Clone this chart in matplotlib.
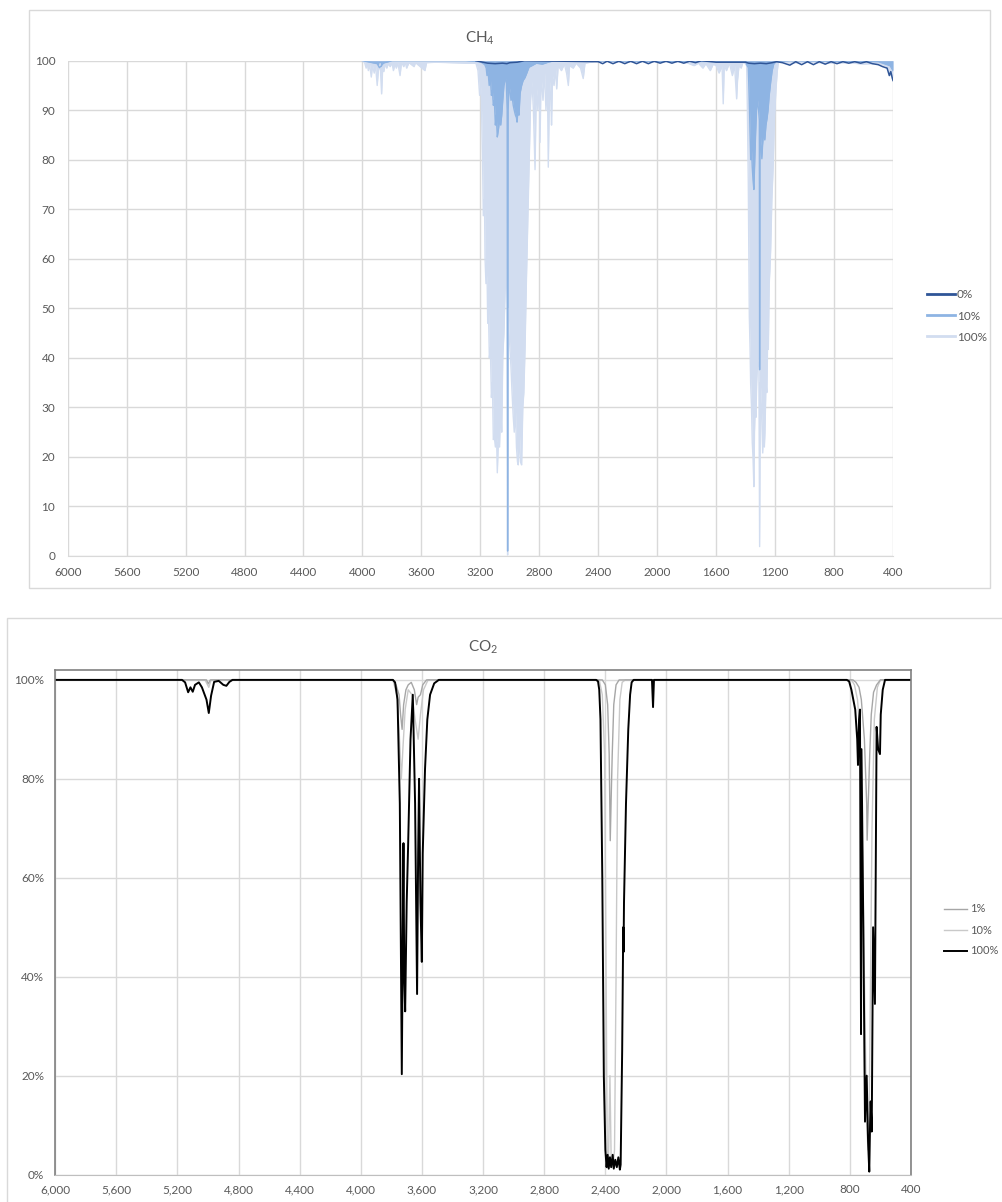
import numpy as np
import matplotlib.pyplot as plt
from matplotlib.patches import Rectangle
from matplotlib.ticker import FuncFormatter, MultipleLocator

plt.rcParams['font.family'] = ['Lato', 'DejaVu Sans']
plt.rcParams['mathtext.fontset'] = 'custom'
plt.rcParams['mathtext.rm'] = 'Lato'
plt.rcParams['mathtext.it'] = 'Lato'

# ---------------- CH4 data (wavenumber, transmittance) ----------------
ch4_labels = ['0%', '10%', '100%']

ch4_0 = [(3230, 100), (3200, 99.8), (3150, 99.5), (3100, 99.4), (3050, 99.5), (3020, 99.4),
         (3000, 99.6), (2950, 99.7), (2900, 100), (2400, 99.8),
         (2370, 99.4), (2340, 99.9), (2300, 99.4), (2260, 99.9), (2220, 99.4), (2180, 99.9),
         (2140, 99.4), (2100, 99.9), (2060, 99.4), (2020, 99.9), (1980, 99.5), (1940, 99.9),
         (1900, 99.5), (1860, 99.9), (1820, 99.5), (1780, 99.9), (1740, 99.6), (1700, 100),
         (1600, 99.7), (1400, 99.7), (1380, 99.5), (1340, 99.4), (1300, 99.5), (1260, 99.4),
         (1220, 99.6), (1190, 99.8), (1150, 99.6), (1100, 99.1), (1060, 99.8), (1020, 99.2),
         (980, 99.8), (940, 99.2), (900, 99.8), (860, 99.3), (820, 99.8), (780, 99.4),
         (740, 99.8), (700, 99.5), (660, 99.8), (620, 99.5), (580, 99.8), (540, 99.4),
         (500, 99.2), (470, 98.8), (440, 98.5), (425, 97.0), (415, 97.8), (405, 96.5), (400, 96.0)]

ch4_10 = [(4000, 100), (3900, 99.4), (3885, 98.6), (3870, 99.0), (3860, 99.5), (3800, 100),
          (3300, 100), (3200, 99.8), (3170, 99.2), (3160, 98.5), (3155, 97), (3148, 98),
          (3140, 95), (3132, 96.5), (3125, 93), (3118, 94), (3112, 91), (3105, 92), (3098, 87),
          (3092, 89), (3085, 84.6), (3078, 86), (3070, 88), (3062, 87), (3055, 89), (3048, 92),
          (3040, 95), (3033, 96), (3025, 97), (3018, 90), (3015, 1), (3012, 90), (3005, 95),
          (2999, 94), (2992, 92), (2985, 93), (2977, 91), (2970, 90), (2962, 89), (2955, 88.5),
          (2951, 87.6), (2945, 90), (2938, 89), (2930, 93.5), (2920, 95), (2910, 96),
          (2897, 96.6), (2885, 97.5), (2870, 98.7), (2850, 99), (2820, 99.5), (2780, 99.3),
          (2740, 99.7), (2700, 100), (1400, 99.8), (1390, 99), (1382, 98.6), (1375, 92),
          (1370, 85.6), (1365, 80), (1360, 82), (1355, 78.5), (1350, 76), (1344, 74),
          (1338, 80), (1332, 85.6), (1326, 90), (1320, 92.3), (1312, 90), (1307, 88),
          (1305, 37.6), (1303, 88), (1298, 84), (1290, 80.2), (1285, 83), (1278, 85.6),
          (1270, 84), (1262, 87), (1255, 88.3), (1248, 90), (1240, 93), (1230, 95.7),
          (1220, 98), (1210, 99.3), (1195, 99.8), (1100, 100), (500, 99.8), (420, 99), (400, 98)]

ch4_100 = [(4000, 100), (3985, 99.6), (3975, 98.5), (3968, 99.5), (3960, 98), (3952, 99.3),
           (3940, 96.7), (3932, 99), (3920, 97.5), (3912, 99.4), (3900, 95), (3892, 98),
           (3880, 99.4), (3870, 93.3), (3862, 99), (3855, 97.8), (3845, 99.5), (3835, 98.5),
           (3825, 99.4), (3812, 98.8), (3800, 99.6), (3790, 98), (3780, 99.3), (3770, 98.5),
           (3760, 99.6), (3745, 97), (3735, 99.7), (3720, 98.8), (3710, 99.7), (3700, 98.5),
           (3685, 99.6), (3650, 98.8), (3640, 99.6), (3576, 98), (3565, 99.6), (3500, 99.7),
           (3400, 99.6), (3300, 99.5), (3230, 99.5), (3216, 98), (3205, 93), (3195, 95),
           (3191, 89), (3185, 80), (3180, 68.7), (3172, 72), (3168, 60), (3162, 55), (3155, 58),
           (3150, 47), (3145, 50), (3139, 40), (3132, 42), (3125, 32), (3118, 35), (3112, 23.5),
           (3105, 24), (3098, 22), (3090, 24), (3085, 16.8), (3078, 23), (3070, 22), (3062, 30),
           (3055, 25), (3048, 40), (3040, 45), (3033, 52.5), (3025, 60), (3018, 50), (3015, 0.2),
           (3012, 50), (3005, 45), (2999, 41.7), (2992, 38), (2985, 33), (2977, 28.2),
           (2970, 25), (2962, 30), (2955, 22), (2948, 19), (2943, 18.4), (2935, 25), (2928, 19),
           (2920, 18.4), (2912, 30), (2905, 33), (2897, 41.7), (2888, 55), (2880, 65),
           (2875, 72), (2868, 80), (2859, 92), (2850, 96), (2840, 90), (2829, 78), (2820, 95),
           (2810, 90), (2800, 97), (2795, 83.5), (2788, 97), (2775, 92), (2765, 98), (2755, 90),
           (2745, 96), (2739, 78.5), (2730, 96), (2722, 92), (2717, 87), (2710, 97), (2700, 95),
           (2690, 98.5), (2682, 94.3), (2672, 99), (2650, 98), (2630, 99.3), (2615, 97.5),
           (2603, 95), (2595, 99), (2570, 98.5), (2550, 99.5), (2520, 98.5), (2502, 96.4),
           (2490, 99.5), (2450, 99.7), (2400, 100), (2300, 99.8), (2200, 99.7), (2100, 99.8),
           (2000, 99.7), (1900, 99.8), (1800, 99.6), (1750, 99), (1720, 99.5), (1690, 98.5),
           (1670, 99.4), (1640, 98), (1620, 99.3), (1600, 99), (1580, 97.5), (1560, 99),
           (1552, 91.3), (1545, 99), (1530, 98), (1510, 99.5), (1490, 97), (1475, 99),
           (1467, 95), (1461, 92.3), (1455, 96), (1445, 99), (1430, 98.5), (1420, 99.6),
           (1405, 99.5), (1393, 99), (1388, 90), (1382, 75.5), (1378, 60), (1375, 48.4),
           (1370, 42), (1366, 35), (1360, 30), (1355, 22.9), (1350, 20), (1344, 14), (1340, 25),
           (1335, 30), (1330, 28), (1325, 35), (1318, 40), (1310, 38), (1305, 1.9), (1300, 35),
           (1293, 30), (1288, 25), (1284, 20.8), (1278, 28), (1273, 22), (1269, 24.9),
           (1262, 35), (1256, 33), (1250, 45), (1246, 41.7), (1240, 55), (1235, 58), (1230, 62),
           (1222, 72), (1213, 78.8), (1205, 88), (1194, 94.3), (1185, 98), (1178, 99.7),
           (1150, 99.8), (1100, 99.5), (1000, 99.7), (900, 99.6), (800, 99.5), (700, 99.6),
           (600, 99.3), (500, 99.5), (450, 99), (430, 98.5), (415, 97), (405, 97.5), (400, 96.5)]

# ---------------- CO2 data (wavenumber, transmittance %) ----------------
co2_labels = ['1%', '10%', '100%']

co2_1 = [(6000, 100), (5010, 100), (4998, 99.2), (4985, 100), (3790, 100), (3770, 99),
         (3750, 97), (3740, 93), (3730, 90), (3720, 95), (3705, 98), (3690, 99), (3670, 99.5),
         (3650, 98), (3635, 95), (3625, 96.5), (3610, 97), (3595, 99), (3570, 100),
         (2420, 100), (2400, 99), (2385, 95), (2375, 85), (2368, 67.5), (2362, 76), (2355, 85),
         (2345, 95), (2330, 99), (2310, 100), (780, 100), (760, 99.5), (740, 98.5), (725, 96),
         (705, 88), (690, 75), (687, 67.6), (680, 75), (670, 85), (660, 93), (645, 97.5),
         (625, 99), (600, 100), (400, 100)]

co2_10 = [(6000, 100), (5020, 100), (4995, 98.5), (4980, 100), (3790, 100), (3765, 97),
          (3750, 90), (3735, 80), (3725, 86), (3710, 94), (3690, 98), (3665, 97), (3645, 92),
          (3625, 88), (3610, 93), (3590, 98), (3560, 100), (2440, 100), (2420, 97),
          (2405, 85), (2395, 40), (2388, 5), (2380, 2), (2370, 20), (2362, 3), (2350, 1.5),
          (2340, 5), (2330, 40), (2320, 80), (2305, 96), (2290, 99.5), (2270, 100),
          (790, 100), (770, 99), (750, 96), (735, 90), (720, 70), (705, 40), (690, 10),
          (681, 5), (675, 8), (668, 30), (655, 70), (640, 92), (620, 98.5), (600, 100), (400, 100)]

co2_100 = [(6000, 100), (5170, 100), (5150, 99.5), (5130, 97.5), (5115, 98.5), (5100, 97.6),
           (5085, 99), (5060, 99.5), (5040, 98.5), (5010, 96), (4995, 93.3), (4980, 96.8),
           (4960, 99.6), (4930, 99.8), (4900, 99), (4880, 98.8), (4860, 99.6), (4840, 100),
           (3790, 100), (3776, 99.5), (3760, 96), (3745, 75), (3732, 20.3), (3721, 67),
           (3716, 40), (3710, 33), (3700, 55), (3691, 66), (3675, 88), (3660, 97), (3645, 75),
           (3632, 36.5), (3625, 65), (3619, 80), (3610, 55), (3601, 43), (3595, 65), (3580, 82),
           (3565, 92), (3547, 97), (3520, 99.3), (3490, 100), (2460, 100), (2448, 99.7),
           (2440, 98), (2432, 92), (2420, 60), (2410, 20), (2400, 5), (2392, 1.5), (2385, 4),
           (2378, 1.2), (2370, 3.5), (2362, 1.5), (2352, 4), (2345, 1.2), (2335, 3), (2325, 1.5),
           (2315, 3.5), (2305, 1), (2300, 2), (2290, 25), (2283, 50), (2281, 45), (2278, 55),
           (2265, 75), (2250, 90), (2238, 97), (2228, 99.5), (2215, 100), (2095, 100),
           (2088, 94.5), (2082, 100), (820, 100), (805, 99.7), (790, 98), (765, 94), (752, 88),
           (747, 82.8), (740, 92), (734, 94), (727, 28.4), (724, 86), (712, 50), (701, 10.7),
           (690, 20), (681, 6.7), (673, 0.6), (668, 10), (664, 14.8), (657, 8.7), (648, 50),
           (636, 34.5), (625, 90.5), (615, 86), (603, 85), (598, 93), (585, 98), (570, 100),
           (400, 100)]


def unzip(pairs):
    a = np.array(pairs, dtype=float)
    return a[:, 0], a[:, 1]


W, H = 1003, 1202
fig = plt.figure(figsize=(W / 100, H / 100), dpi=100)
grid_c = '#d9d9d9'
tick_c = '#595959'

# chart borders (Excel chart area)
fig.add_artist(Rectangle((29 / W, 1 - 588 / H), (990 - 29) / W, (588 - 10) / H,
                         transform=fig.transFigure, fill=False, edgecolor=grid_c, lw=1))
fig.add_artist(Rectangle((7 / W, 1 - 1210 / H), (1010 - 7) / W, (1210 - 618) / H,
                         transform=fig.transFigure, fill=False, edgecolor=grid_c, lw=1))

# ---------------- CH4 ----------------
ax1 = fig.add_axes([67.7 / W, 1 - 556 / H, (893 - 67.7) / W, (556 - 60.7) / H])
colors1 = ['#2f5597', '#8eb4e3', '#d2ddf0']

x, y = unzip(ch4_100)
ax1.fill_between(x, y, 100, color=colors1[2], lw=0)
l100, = ax1.plot(x, y, color=colors1[2], lw=1.0)
x, y = unzip(ch4_10)
ax1.fill_between(x, y, 100, color=colors1[1], lw=0)
l10, = ax1.plot(x, y, color=colors1[1], lw=1.0)
x, y = unzip(ch4_0)
l0, = ax1.plot(x, y, color=colors1[0], lw=1.1)

ax1.set_xlim(6000, 400)
ax1.set_ylim(0, 100)
ax1.xaxis.set_major_locator(MultipleLocator(400))
ax1.yaxis.set_major_locator(MultipleLocator(10))
ax1.grid(True, color=grid_c, lw=1)
ax1.set_axisbelow(True)
for s in ['top', 'right', 'left']:
    ax1.spines[s].set_visible(False)
ax1.spines['bottom'].set_color(grid_c)
ax1.tick_params(axis='x', length=0, labelsize=8.5, colors=tick_c, pad=8)
ax1.tick_params(axis='y', length=0, labelsize=8.5, colors=tick_c, pad=9)
ax1.set_title('CH$_4$', fontsize=11, color=tick_c, pad=13)
leg1 = ax1.legend([l0, l10, l100], ch4_labels, loc='center left', frameon=False,
                  bbox_to_anchor=(916 / W, 1 - 316 / H), bbox_transform=fig.transFigure,
                  fontsize=8.5, labelcolor=tick_c, handlelength=2.4, handletextpad=0.15,
                  labelspacing=0.85)
for h in leg1.legend_handles:
    h.set_linewidth(2)

# ---------------- CO2 ----------------
ax2 = fig.add_axes([55.2 / W, 1 - 1174.6 / H, (911 - 55.2) / W, (1174.6 - 670) / H])
colors2 = ['#a6a6a6', '#c9c9c9', '#000000']

x, y = unzip(co2_10)
m10, = ax2.plot(x, y / 100, color=colors2[1], lw=1.0)
x, y = unzip(co2_1)
m1, = ax2.plot(x, y / 100, color=colors2[0], lw=1.0)
x, y = unzip(co2_100)
m100, = ax2.plot(x, y / 100, color=colors2[2], lw=1.4)

ax2.set_xlim(6000, 400)
ax2.set_ylim(0, 1.02)
ax2.xaxis.set_major_locator(MultipleLocator(400))
ax2.set_yticks([0, 0.2, 0.4, 0.6, 0.8, 1.0])
ax2.xaxis.set_major_formatter(FuncFormatter(lambda v, p: f'{v:,.0f}'))
ax2.yaxis.set_major_formatter(FuncFormatter(lambda v, p: f'{v:.0%}'))
ax2.grid(True, color=grid_c, lw=1)
ax2.set_axisbelow(True)
for s in ['top', 'right', 'left']:
    ax2.spines[s].set_color('#808080')
    ax2.spines[s].set_linewidth(1.2)
ax2.spines['bottom'].set_color('#bfbfbf')
ax2.tick_params(axis='x', length=0, labelsize=8.5, colors=tick_c, pad=7)
ax2.tick_params(axis='y', length=0, labelsize=8.5, colors=tick_c, pad=8)
ax2.set_title('CO$_2$', fontsize=11, color=tick_c, pad=13)
leg2 = ax2.legend([m1, m10, m100], co2_labels, loc='center left', frameon=False,
                  bbox_to_anchor=(934 / W, 1 - 930 / H), bbox_transform=fig.transFigure,
                  fontsize=8, labelcolor=tick_c, handlelength=2.1, handletextpad=0.25,
                  labelspacing=0.9)

fig.savefig('out.png', dpi=100)
